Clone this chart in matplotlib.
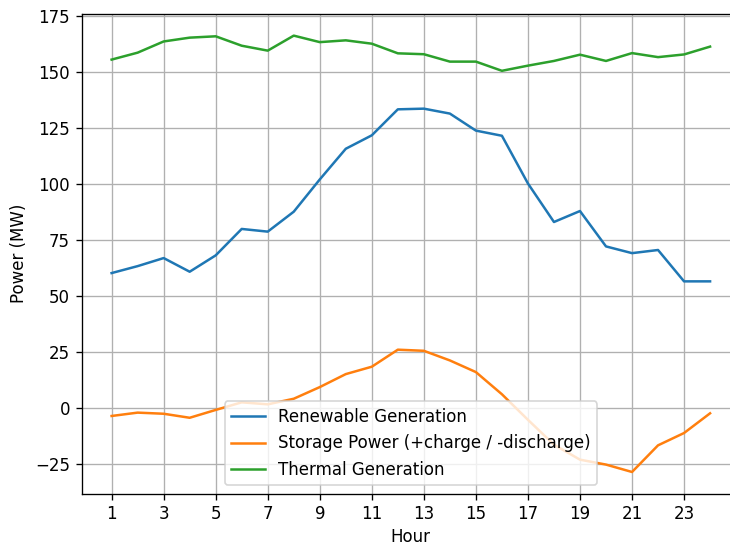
import matplotlib
matplotlib.use("Agg")
import matplotlib.pyplot as plt
import numpy as np

hours = list(range(1, 25))
renewable = [60.1, 63.2, 66.8, 60.7, 68.0, 79.8, 78.6, 87.5, 101.9, 115.6, 121.6, 133.2,
             133.5, 131.3, 123.7, 121.4, 100.1, 82.9, 87.8, 72.0, 69.0, 70.4, 56.4, 56.4]
storage = [-3.7, -2.2, -2.7, -4.5, -1.0, 2.4, 1.5, 4.0, 9.2, 15.0, 18.3, 25.9,
           25.4, 21.1, 15.9, 6.0, -5.4, -16.5, -23.2, -25.4, -28.7, -16.8, -11.3, -2.5]
thermal = [155.4, 158.5, 163.5, 165.2, 165.8, 161.6, 159.4, 166.1, 163.2, 164.0, 162.5, 158.2,
           157.8, 154.5, 154.5, 150.4, 152.7, 154.8, 157.6, 154.8, 158.3, 156.5, 157.7, 161.2]
xticks = list(range(1, 24, 2))

DPI = 120
fig = plt.figure(figsize=(730 / DPI, 546 / DPI), dpi=DPI)
ax = fig.add_axes([0.1119, 0.0956, 0.9018, 0.8791])
ax.plot(hours, renewable, label="Renewable Generation")
ax.plot(hours, storage, label="Storage Power (+charge / -discharge)")
ax.plot(hours, thermal, label="Thermal Generation")
ax.set_xticks(xticks)
ax.set_xlabel("Hour", labelpad=2.5)
ax.set_ylabel("Power (MW)")
ax.grid(True)
ax.legend(loc="lower center")
fig.savefig("out.png", dpi=DPI)
